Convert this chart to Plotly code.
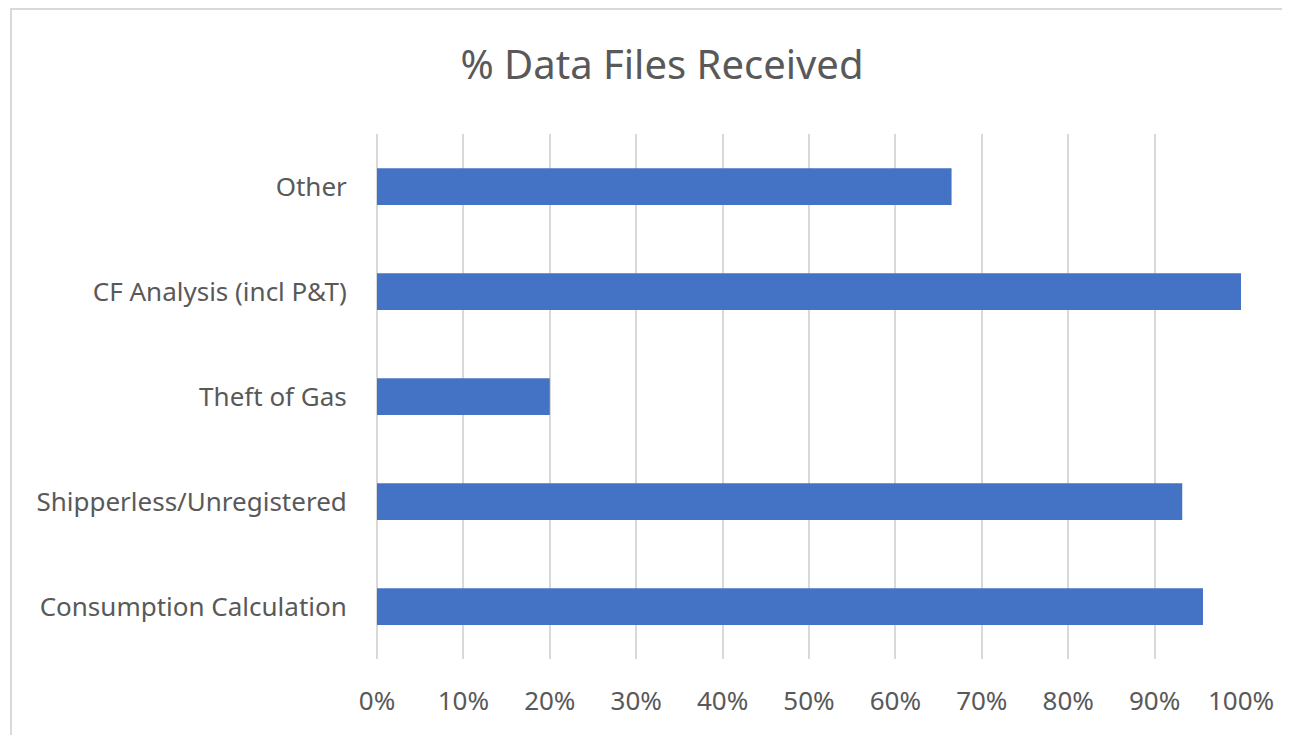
import plotly.graph_objects as go

categories = ["Consumption Calculation", "Shipperless/Unregistered", "Theft of Gas",
              "CF Analysis (incl P&T)", "Other"]
values = [0.956, 0.932, 0.20, 1.0, 0.665]
x_ticks = [i / 10 for i in range(11)]
x_tick_labels = [f"{i*10}%" for i in range(11)]

# page body has an 8px margin, so the figure is placed 8px in from the window edge
OFF = 8
W, H = 1290 - OFF, 735 - OFF
L, R, T, B = 377 - OFF, 1241 - OFF, 134 - OFF, 659 - OFF

fig = go.Figure(go.Bar(
    y=categories, x=values, orientation="h",
    marker=dict(color="#4472C4", line=dict(width=0)),
))

text_color = "#595959"
grid_color = "#D9D9D9"
font_family = "Noto Sans, Open Sans, sans-serif"

fig.update_layout(
    width=W, height=H,
    margin=dict(l=L, r=W - R, t=T, b=H - B, pad=0),
    paper_bgcolor="white", plot_bgcolor="white",
    bargap=0.65,
    showlegend=False,
    title=dict(text="% Data Files Received", x=(662 - OFF) / W, xanchor="center",
               y=1 - (65 - OFF) / H, yanchor="middle", xref="container", yref="container",
               font=dict(family=font_family, size=40, color=text_color)),
    font=dict(family=font_family, color=text_color),
    xaxis=dict(range=[0, 1], tickvals=x_ticks, ticktext=x_tick_labels,
               showgrid=True, gridcolor=grid_color, gridwidth=1.5,
               zeroline=True, zerolinecolor=grid_color, zerolinewidth=1.5,
               showline=False,
               ticks="outside", ticklen=19, tickcolor="rgba(0,0,0,0)",
               tickfont=dict(size=26, color=text_color, family=font_family)),
    yaxis=dict(showgrid=False, zeroline=False, showline=False,
               ticks="outside", ticklen=24, tickcolor="rgba(0,0,0,0)",
               tickfont=dict(size=26, color=text_color, family=font_family)),
)

# chart-area border (left/top visible in the reference)
x0 = (11 - OFF - L) / (R - L)
y1 = (B - (9 - OFF)) / (B - T)
fig.add_shape(type="rect", xref="paper", yref="paper",
              x0=x0, x1=(W + 40 - L) / (R - L), y0=-(H + 40 - B) / (B - T), y1=y1,
              line=dict(color=grid_color, width=2), fillcolor="rgba(0,0,0,0)", layer="below")

fig.write_html("out.html")
